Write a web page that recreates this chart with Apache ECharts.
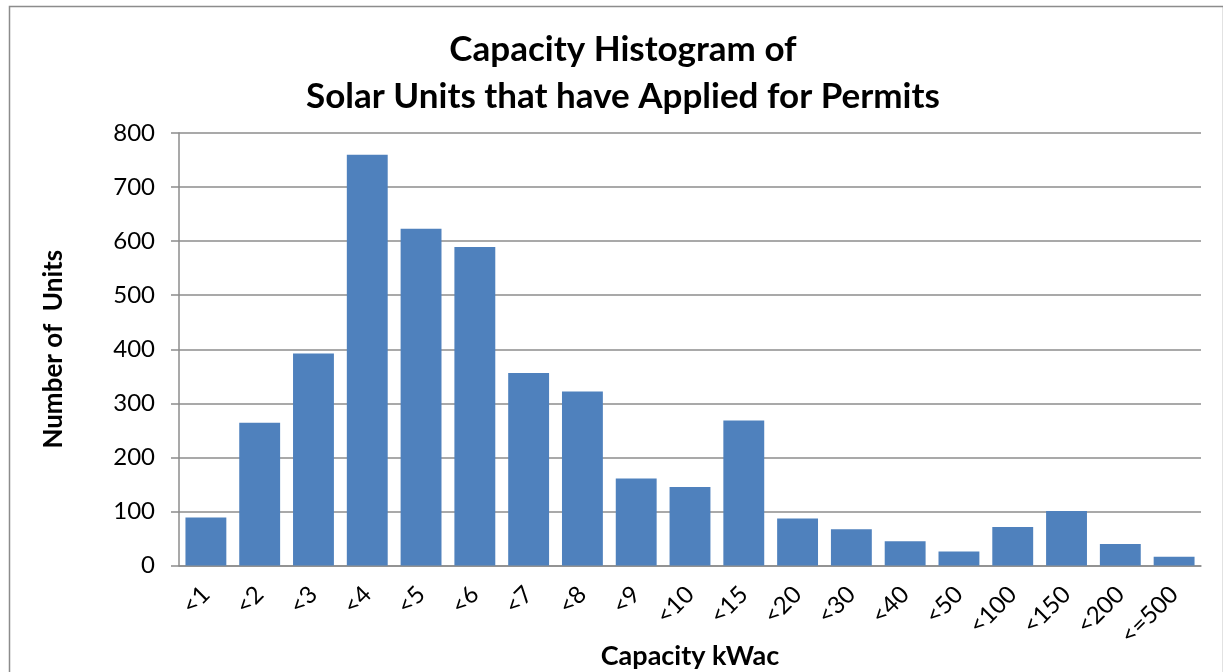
<!DOCTYPE html>
<html><head><meta charset="utf-8">
<script src="https://cdn.jsdelivr.net/npm/echarts@6/dist/echarts.min.js"></script>
<style>html,body{margin:0;padding:0;background:#fff}#c{width:1223px;height:672px}</style>
</head><body><div id="c"></div>
<script>
const categories = ['<1','<2','<3','<4','<5','<6','<7','<8','<9','<10','<15','<20','<30','<40','<50','<100','<150','<200','<=500'];
const units = [89, 264, 392, 760, 623, 589, 356, 322, 161, 145, 268, 87, 67, 45, 26, 71, 101, 40, 16];
const yTicks = [0, 100, 200, 300, 400, 500, 600, 700, 800];

const font = 'Lato, "Open Sans", sans-serif';
const chart = echarts.init(document.getElementById('c'), null, {renderer: 'canvas'});
chart.setOption({
  animation: false,
  backgroundColor: '#fff',
  graphic: [{type: 'rect', left: 7, top: 4, shape: {width: 1214, height: 700}, style: {fill: 'none', stroke: '#8c8c8c', lineWidth: 1.5}, silent: true}],
  title: {
    text: 'Capacity Histogram of\nSolar Units that have Applied for Permits',
    left: 618, top: 21, textAlign: 'center',
    textStyle: {fontFamily: font, fontWeight: 'bold', fontSize: 35, lineHeight: 47, color: '#000'}
  },
  grid: {left: 179, right: 22, top: 133, bottom: 106.5, containLabel: false, outerBoundsMode: 'none'},
  xAxis: {
    type: 'category', data: categories,
    axisLine: {lineStyle: {color: '#8c8c8c', width: 1.5}},
    axisTick: {show: false},
    axisLabel: {rotate: 45, fontFamily: font, fontSize: 24, color: '#000', margin: 25, interval: 0},
    name: 'Capacity kWac', nameLocation: 'middle', nameGap: 77, nameMoveOverlap: false,
    nameTextStyle: {fontFamily: font, fontWeight: 'bold', fontSize: 27, color: '#000'}
  },
  yAxis: {
    type: 'value', min: yTicks[0], max: yTicks[yTicks.length-1], interval: 100,
    axisLine: {show: true, lineStyle: {color: '#8c8c8c', width: 1.5}},
    axisTick: {show: true, length: 8, lineStyle: {color: '#8c8c8c', width: 1.5}},
    splitLine: {lineStyle: {color: '#8c8c8c', width: 1.5}},
    axisLabel: {fontFamily: font, fontSize: 24, color: '#000', margin: 24},
    name: 'Number of  Units', nameLocation: 'middle', nameGap: 112, nameRotate: 90, nameMoveOverlap: false,
    nameTextStyle: {fontFamily: font, fontWeight: 'bold', fontSize: 26, color: '#000'}
  },
  series: [{
    type: 'bar', data: units, barCategoryGap: '24%',
    itemStyle: {color: '#4F81BD'}
  }]
});
</script></body></html>
